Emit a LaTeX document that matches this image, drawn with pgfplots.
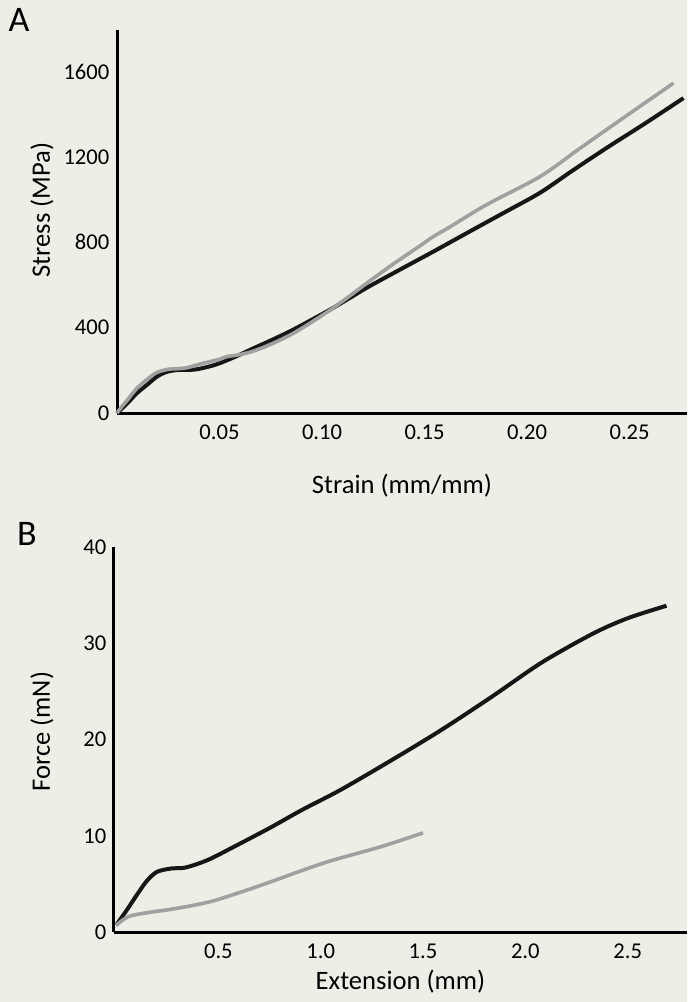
\documentclass[border=0pt]{standalone}
\usepackage{fontspec}
\setmainfont{Carlito}
\usepackage{pgfplots}
\pgfplotsset{compat=1.18}
\definecolor{paper}{RGB}{238,238,230}
\definecolor{curvegray}{RGB}{160,160,160}
\definecolor{curveblack}{RGB}{22,22,22}

\newcommand{\labfont}{\fontsize{13.3}{16}\selectfont}

\pgfplotsset{
  panel/.style={
    scale only axis,
    axis x line=bottom, axis y line=left,
    axis line style={-, line width=1.5pt, black},
    major tick length=0pt,
    tick label style={font=\fontsize{11.3}{14}\selectfont},
    /pgf/number format/assume math mode=true,
    /pgf/number format/1000 sep={},
    xticklabel style={yshift=-2.3pt},
    yticklabel style={xshift=-0.3pt},
    clip=false,
  },
}

\begin{document}
\begin{tikzpicture}
\fill[paper] (0,0) rectangle (343.5pt,-501pt);

% panel A: stress vs strain
\begin{axis}[panel,
  at={(58.5pt,-206.5pt)}, anchor=south west,
  width=285pt, height=191.5pt,
  xmin=0, xmax=0.278, ymin=0, ymax=1795,
  xtick={0.05,0.10,0.15,0.20,0.25},
  xticklabel style={/pgf/number format/.cd, fixed, fixed zerofill, precision=2},
  ytick={0,400,800,1200,1600},
  xlabel={Strain (mm/mm)}, ylabel={Stress (MPa)},
  every axis x label/.style={at={(axis description cs:0.5,-0.19)}, anchor=center, font=\labfont},
  every axis y label/.style={at={(axis description cs:-0.1316,0.53)}, rotate=90, anchor=center, font=\labfont},
]
\addplot[curveblack, line width=2pt, smooth, tension=0.5] coordinates {
(0,0) (0.005,45) (0.0096,92) (0.015,135) (0.0194,170) (0.024,192) (0.029,201)
(0.035,202) (0.039,205) (0.045,218) (0.050,233) (0.058,265) (0.0665,303)
(0.075,340) (0.0844,383) (0.094,432) (0.104,485) (0.113,536) (0.122,588)
(0.138,672) (0.154,755) (0.170,840) (0.188,935) (0.2063,1032) (0.222,1135)
(0.2389,1243) (0.258,1360) (0.2763,1476)
};
\addplot[curvegray, line width=1.8pt, smooth, tension=0.5] coordinates {
(0,0) (0.0015,20) (0.005,60) (0.0096,115) (0.015,160) (0.0194,190) (0.025,205)
(0.030,208) (0.034,212) (0.040,228) (0.045,240) (0.050,252) (0.0535,264)
(0.060,274) (0.0665,290) (0.075,322) (0.0844,365) (0.094,420) (0.104,483)
(0.113,545) (0.122,610) (0.135,700) (0.148,785) (0.1543,827) (0.162,870)
(0.180,975) (0.2063,1108) (0.225,1235) (0.245,1370) (0.2714,1546)
};
\end{axis}

% panel B: force vs extension
\begin{axis}[panel,
  at={(57pt,-466pt)}, anchor=south west,
  width=286.5pt, height=192.5pt,
  xmin=-0.01, xmax=2.79, ymin=0, ymax=40,
  xtick={0.5,1.0,1.5,2.0,2.5},
  xticklabel style={/pgf/number format/.cd, fixed, fixed zerofill, precision=1},
  ytick={0,10,20,30,40},
  xlabel={Extension (mm)}, ylabel={Force (mN)},
  every axis x label/.style={at={(axis description cs:0.5,-0.13)}, anchor=center, font=\labfont},
  every axis y label/.style={at={(axis description cs:-0.1257,0.52)}, rotate=90, anchor=center, font=\labfont},
]
\addplot[curveblack, line width=2pt, smooth, tension=0.5] coordinates {
(0,0.7) (0.05,2.2) (0.10,3.8) (0.15,5.3) (0.20,6.25) (0.27,6.6) (0.34,6.7)
(0.45,7.5) (0.58,8.9) (0.75,10.8) (0.91,12.7) (1.10,14.8) (1.35,17.9)
(1.59,21.0) (1.84,24.5) (2.08,28.0) (2.33,31.0) (2.50,32.6) (2.69,33.9)
};
\addplot[curvegray, line width=1.8pt, smooth, tension=0.5] coordinates {
(0,0.7) (0.06,1.6) (0.15,2.0) (0.25,2.3) (0.36,2.7) (0.47,3.2) (0.56,3.8)
(0.66,4.5) (0.78,5.4) (0.91,6.4) (1.05,7.4) (1.30,8.9) (1.50,10.3)
};
\end{axis}

\node[font=\fontsize{18}{20}\selectfont] at (9.5pt,-10pt) {A};
\node[font=\fontsize{18}{20}\selectfont] at (13.5pt,-267pt) {B};
\end{tikzpicture}
\end{document}
